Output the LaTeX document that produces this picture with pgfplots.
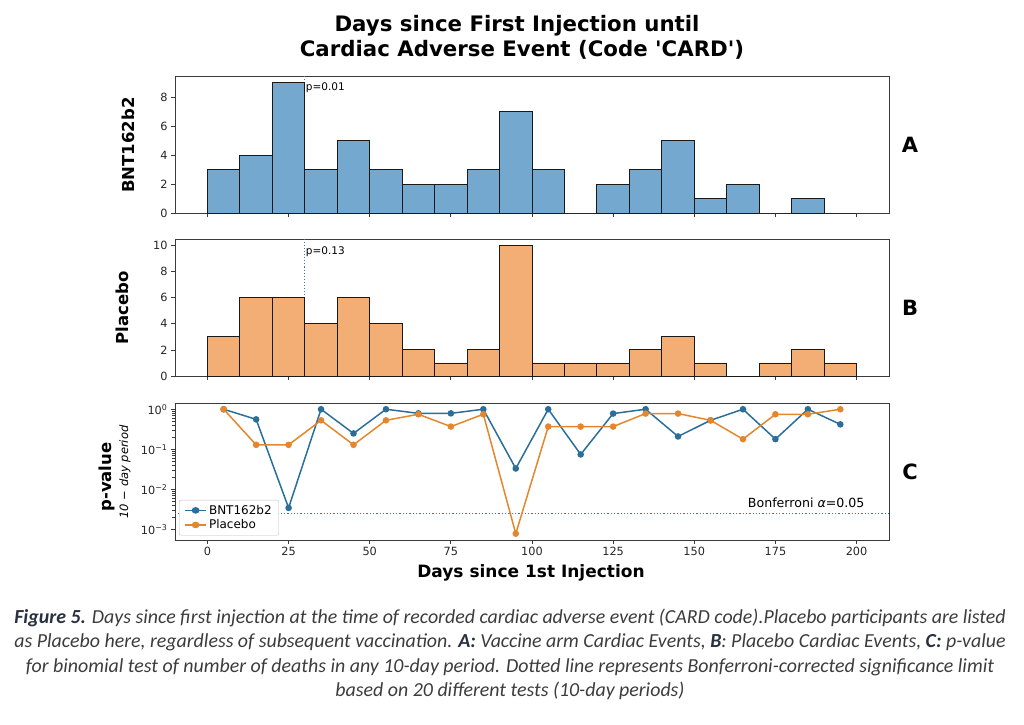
\documentclass[border=0pt]{standalone}
\usepackage{pgfplots}
\pgfplotsset{compat=1.18}
\usepackage{fontspec}
\setmainfont{DejaVu Sans}
\newfontfamily\capfont{Carlito}
\definecolor{barblue}{HTML}{74A8CE}
\definecolor{barorange}{HTML}{F2AE74}
\definecolor{lineblue}{HTML}{2A6E9A}
\definecolor{lineorange}{HTML}{E4872C}
\definecolor{dotblue}{HTML}{3A7CAA}
\definecolor{captext}{HTML}{3C3C3C}
\definecolor{capbold}{HTML}{28313F}
\definecolor{spine}{HTML}{3A3A3A}
\pgfplotsset{
  panel/.style={width=714pt, height=137pt, scale only axis, xmin=-10, xmax=210,
    anchor=north west,
    axis line style={spine, line width=0.9pt},
    tick align=outside, tick pos=left, major tick length=4pt,
    tick style={spine, line width=0.8pt},
    xtick={0,25,...,200},
    /pgf/number format/assume math mode=true,
    ticklabel style={font=\fontsize{11.3}{13}\selectfont, text=black!85},
  }
}
\begin{document}
\begin{tikzpicture}
\path[use as bounding box] (0pt,0pt) rectangle (1024pt,-724pt);

% Title
\node[anchor=base, font=\bfseries\fontsize{21.3}{25}\selectfont] at (517pt,-31pt) {Days since First Injection until};
\node[anchor=base, font=\bfseries\fontsize{21.3}{25}\selectfont] at (522pt,-56pt) {Cardiac Adverse Event (Code \textquotesingle CARD\textquotesingle)};

% Panel A
\begin{axis}[panel, at={(175pt,-76pt)}, ymin=0, ymax=9.45, ytick={0,2,4,6,8}, xticklabels={}]
\addplot[dotted, dotblue, line width=1.1pt] coordinates {(30,0) (30,9.45)};
\addplot[ybar interval, fill=barblue, draw=black!90, line width=0.9pt] coordinates {
(0,3) (10,4) (20,9) (30,3) (40,5) (50,3) (60,2) (70,2) (80,3) (90,7)
(100,3) (110,0) (120,2) (130,3) (140,5) (150,1) (160,2) (170,0) (180,1) (190,0) (200,0)};
\node[anchor=north west, inner sep=0pt, font=\fontsize{10.5}{12}\selectfont] at (axis cs:30.3,9.0) {p=0.01};
\end{axis}

% Panel B
\begin{axis}[panel, at={(175pt,-239pt)}, ymin=0, ymax=10.5, ytick={0,2,4,6,8,10}, xticklabels={}]
\addplot[dotted, dotblue, line width=1.1pt] coordinates {(30,0) (30,10.5)};
\addplot[ybar interval, fill=barorange, draw=black!90, line width=0.9pt] coordinates {
(0,3) (10,6) (20,6) (30,4) (40,6) (50,4) (60,2) (70,1) (80,2) (90,10)
(100,1) (110,1) (120,1) (130,2) (140,3) (150,1) (160,0) (170,1) (180,2) (190,1) (200,1)};
\node[anchor=north west, inner sep=0pt, font=\fontsize{10.5}{12}\selectfont] at (axis cs:30.3,9.9) {p=0.13};
\end{axis}

% Panel C
\begin{axis}[panel, at={(175pt,-403pt)}, ymode=log, ymin=0.000556, ymax=1.429,
  ytick={0.001,0.01,0.1,1},
  yticklabels={10\textsuperscript{−3},10\textsuperscript{−2},10\textsuperscript{−1},10\textsuperscript{0}},
  legend style={at={(0.0056,0.033)}, anchor=south west, font=\fontsize{12}{14}\selectfont,
    draw=black!25, rounded corners=2pt, fill=white, row sep=0pt, inner xsep=5pt, inner ysep=3pt},
  legend image post style={xscale=1.25},
  legend cell align=left]
\addplot[dotted, dotblue, line width=1.3pt, forget plot] coordinates {(-10,0.0025) (210,0.0025)};
\addplot[lineblue, line width=1.5pt, mark=*, mark size=2.5pt, mark options={solid}] coordinates {
(5,1.0) (15,0.56) (25,0.0035) (35,1.0) (45,0.25) (55,1.0) (65,0.79) (75,0.79) (85,1.0) (95,0.0335)
(105,1.0) (115,0.075) (125,0.78) (135,1.0) (145,0.21) (155,0.53) (165,1.0) (175,0.18) (185,1.0) (195,0.42)};
\addlegendentry{BNT162b2}
\addplot[lineorange, line width=1.5pt, mark=*, mark size=2.5pt, mark options={solid}] coordinates {
(5,1.0) (15,0.13) (25,0.13) (35,0.53) (45,0.13) (55,0.53) (65,0.75) (75,0.37) (85,0.75) (95,0.0008)
(105,0.37) (115,0.37) (125,0.37) (135,0.78) (145,0.78) (155,0.53) (165,0.18) (175,0.75) (185,0.75) (195,1.0)};
\addlegendentry{Placebo}
\node[anchor=base east, inner sep=0pt, font=\fontsize{12.6}{14}\selectfont] at (axis cs:202.5,0.00355) {Bonferroni {\itshape α}=0.05};
\end{axis}

% Y labels
\node[rotate=90, font=\bfseries\fontsize{16.5}{19}\selectfont] at (128pt,-145pt) {BNT162b2};
\node[rotate=90, font=\bfseries\fontsize{16.5}{19}\selectfont] at (122pt,-308pt) {Placebo};
\node[rotate=90, font=\bfseries\fontsize{16.5}{19}\selectfont] at (107pt,-477pt) {p-value};
\node[rotate=90, font=\itshape\fontsize{11.5}{13}\selectfont] at (125pt,-472pt) {10 − day period};

% X label
\node[anchor=base, font=\bfseries\fontsize{17}{20}\selectfont] at (531pt,-577pt) {Days since 1st Injection};

% Panel letters
\node[font=\bfseries\fontsize{21}{24}\selectfont] at (910pt,-144.5pt) {A};
\node[font=\bfseries\fontsize{21}{24}\selectfont] at (910pt,-307.5pt) {B};
\node[font=\bfseries\fontsize{21}{24}\selectfont] at (910pt,-472pt) {C};

% Caption
\begin{scope}[every node/.style={anchor=base, inner sep=0pt, text=captext, font=\capfont\itshape\fontsize{19.9}{23}\selectfont}]
\node at (510pt,-623pt) {\textcolor{capbold}{\bfseries Figure 5.} Days since first injection at the time of recorded cardiac adverse event (CARD code).Placebo participants are listed};
\node at (510pt,-647.5pt) {as Placebo here, regardless of subsequent vaccination. \textcolor{capbold}{\bfseries A:} Vaccine arm Cardiac Events, \textcolor{capbold}{\bfseries B}: Placebo Cardiac Events, \textcolor{capbold}{\bfseries C:} p-value};
\node at (510pt,-672pt) {for binomial test of number of deaths in any 10-day period. Dotted line represents Bonferroni-corrected significance limit};
\node at (510pt,-696.5pt) {based on 20 different tests (10-day periods)};
\end{scope}
\end{tikzpicture}
\end{document}
